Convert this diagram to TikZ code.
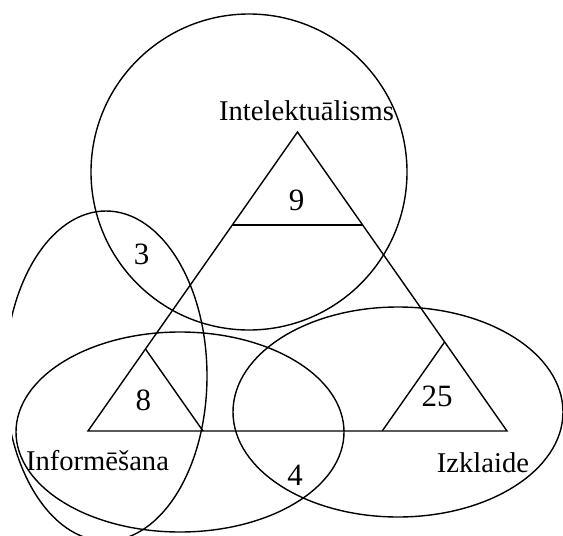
\documentclass[tikz,border=0pt]{standalone}
\usepackage{fontspec}
\setmainfont{Liberation Serif}
\begin{document}
\begin{tikzpicture}[x=0.5pt, y=-0.5pt, line width=0.7pt,
    lbl/.style={anchor=base, inner sep=0pt, font=\fontsize{14.3}{17}\selectfont},
    num/.style={anchor=base, inner sep=0pt, font=\fontsize{15.5}{18}\selectfont}]
    \useasboundingbox (0,0) rectangle (563,536);
    % triangle
    \coordinate (apex) at (297.5,132);
    \coordinate (bl) at (88,431);
    \coordinate (br) at (507,431);
    \draw (bl) -- (apex) -- (br) -- cycle;
    \draw (232.3,225) -- (362.7,225);
    \draw (145.5,349) -- (203,431);
    \draw (444.6,342) -- (382.2,431);
    % sets
    \draw (249,172) circle (158);
    \draw (180,432) ellipse (164 and 100);
    \draw (398,412) ellipse (165 and 105);
    \begin{scope}
        \clip (12,0) rectangle (563,536);
        \draw (106,376) ellipse (101 and 165);
    \end{scope}
    % labels
    \node[lbl] (intel) at (306.5,120.7) {Intelektuālisms};
    \node[lbl] (inform) at (97.5,470) {Informēšana};
    \node[lbl] (izkl) at (483,472) {Izklaide};
    \node[num] (n9) at (296.7,210) {9};
    \node[num] (n3) at (141.7,264) {3};
    \node[num] (n8) at (143.3,410.7) {8};
    \node[num] (n25) at (437,406.7) {25};
    \node[num] (n4) at (295,485) {4};
\end{tikzpicture}
\end{document}
